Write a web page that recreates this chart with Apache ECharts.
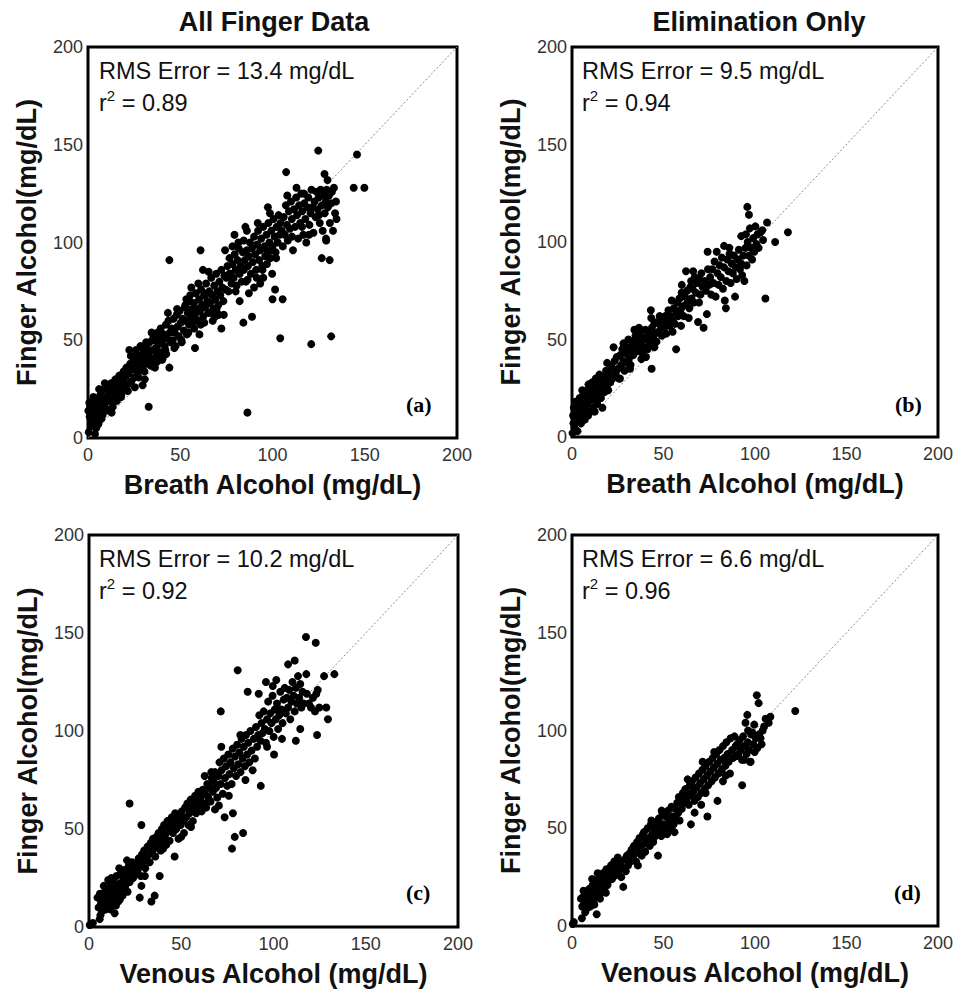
<!DOCTYPE html>
<html>
<head>
<meta charset="utf-8">
<script src="https://cdn.jsdelivr.net/npm/echarts@6/dist/echarts.min.js"></script>
<style>html,body{margin:0;padding:0;background:#fff}#chart{width:956px;height:992px}</style>
</head>
<body>
<div id="chart"></div>
<script>
// ---- Data ----
const axisTicks = [0, 50, 100, 150, 200];
const identityLine = [[0, 0], [200, 200]];

const panelTitles = ['All Finger Data', 'Elimination Only'];
const xNames = ['Breath Alcohol (mg/dL)', 'Breath Alcohol (mg/dL)', 'Venous Alcohol (mg/dL)', 'Venous Alcohol (mg/dL)'];
const yName = 'Finger Alcohol(mg/dL)';
const rmsTexts = ['RMS Error = 13.4 mg/dL', 'RMS Error = 9.5 mg/dL', 'RMS Error = 10.2 mg/dL', 'RMS Error = 6.6 mg/dL'];
const r2Values = ['0.89', '0.94', '0.92', '0.96'];
const panelLetters = ['(a)', '(b)', '(c)', '(d)'];

// (a) All finger data vs breath alcohol
const dataA = [
[0.4,3],[0.9,11],[1.3,16],[1.8,6],[2.2,19],[2.6,13],[3.1,8],[3.5,17],[4.0,14],[4.4,5],[4.9,20],[5.3,11],[5.8,16],[6.2,9],[6.7,22],[7.1,14],[7.6,19],[8.0,12],[8.5,25],[8.9,17],[9.4,21],[9.8,15],[10.3,27],[10.7,19],[11.2,14],[11.6,24],[12.1,19],[12.5,28],[13.0,22],[13.4,16],[13.9,26],[14.3,21],[14.8,30],[15.2,24],[15.7,19],[16.1,27],[16.6,23],[17.0,32],[17.5,26],[17.9,21],[18.4,29],[18.8,25],[19.3,34],[19.7,28],[0.2,14],[0.7,18],[1.6,9],[3.8,2],[5.6,7],[7.3,10],[2.9,21],[6.0,25],[9.1,28],[12.8,13],[4.7,17],[10.9,22],[15.5,28],[18.1,22],[8.3,20],[13.6,24],[2.0,12],[6.5,18],
[20.2,31],[20.8,36],[21.3,27],[21.9,33],[22.4,45],[22.9,38],[23.5,29],[24.0,35],[24.6,41],[25.1,31],[25.7,38],[26.2,43],[26.8,34],[27.3,40],[27.9,36],[28.4,47],[29.0,42],[29.5,37],[30.1,44],[30.6,34],[31.2,40],[31.7,46],[32.3,38],[32.8,43],[33.4,49],[33.9,41],[34.5,54],[35.0,45],[35.6,40],[36.1,50],[36.7,46],[37.2,42],[37.8,54],[38.3,48],[38.9,44],[39.4,56],[40.0,50],[40.5,41],[41.1,53],[41.6,47],[42.2,58],[42.7,51],[43.3,64],[43.6,60],[44.1,36],[44.4,54],[44.9,49],[32.9,16],[25.4,26],[21.6,24],[30.8,30],[36.3,36],[40.2,40],[42.4,43],[27.5,31],[23.2,42],[34.1,37],[39.0,52],[29.6,27],[37.4,39],[26.0,45],[31.5,49],[35.3,51],[41.9,45],[44.1,91],
[45.3,56],[45.9,50],[46.4,61],[47.0,54],[47.5,47],[48.1,63],[48.6,57],[49.2,52],[49.7,65],[50.3,59],[50.8,49],[51.4,61],[51.9,55],[52.5,67],[53.0,60],[53.6,53],[54.1,64],[54.7,58],[55.2,70],[55.8,62],[56.0,77],[56.3,66],[56.9,59],[57.4,69],[58.0,63],[58.0,46],[58.5,74],[59.1,66],[59.6,60],[60.2,71],[60.4,53],[60.7,65],[61.0,96],[61.3,76],[61.8,68],[62.3,86],[62.4,62],[62.9,73],[63.5,67],[64.0,79],[64.6,70],[65.1,64],[65.7,75],[66.2,69],[66.8,82],[67.3,73],[67.6,60],[67.9,66],[68.4,78],[69.0,71],[69.5,84],[70.1,75],[70.6,68],[71.2,80],[71.7,73],[72.3,56],[72.3,86],[72.8,77],[73.4,70],[73.9,83],[74.5,76],[46.8,46],[50.6,50],[54.4,54],[63.0,59],[66.0,64],[69.7,66],[73.6,63],[48.3,66],[52.8,68],[55.4,73],[59.8,79],[64.4,74],[68.8,62],[57.6,56],[61.1,58],[53.3,71],[65.4,85],[70.9,63],
[75.0,82],[75.6,88],[76.1,75],[76.7,92],[77.2,84],[77.8,79],[78.3,98],[78.4,89],[78.9,82],[79.4,104],[79.5,94],[80.0,75],[80.0,86],[80.6,78],[81.1,91],[81.7,97],[82.2,70],[82.2,84],[82.8,88],[83.3,80],[83.9,95],[84.2,59],[84.4,101],[84.5,86],[85.0,91],[85.3,108],[85.6,80],[86.1,106],[86.1,96],[86.4,13],[86.7,88],[87.2,74],[87.2,93],[87.8,100],[88.3,84],[88.9,62],[88.9,97],[89.4,90],[90.0,77],[90.0,103],[90.6,94],[91.1,86],[91.7,99],[92.0,110],[92.2,106],[92.8,91],[93.3,79],[93.3,96],[93.9,102],[94.4,88],[95.0,108],[95.0,82],[95.6,98],[96.1,93],[96.7,104],[97.2,95],[97.5,118],[97.8,110],[98.3,100],[98.6,115],[98.9,92],[99.4,106],[99.8,84],[100.0,98],[100.6,112],[101.1,103],[101.4,76],[101.7,95],[102.2,108],[102.8,100],[103.3,114],[103.9,104],[104.4,110],[100.0,71],[105.5,71],[104.2,51],[74.3,96],[76.6,84],[81.5,100],[86.5,81],[91.4,82],[94.6,86],[97.0,89],[99.0,96],[102.0,92],
[105.0,106],[105.6,98],[106.1,113],[106.7,104],[107.2,119],[107.4,136],[107.8,109],[108.3,101],[108.9,116],[109.4,107],[110.0,121],[110.5,112],[111.1,96],[111.7,117],[112.2,108],[112.8,123],[113.3,114],[113.9,102],[114.4,119],[115.0,110],[115.6,125],[116.1,116],[116.7,104],[117.1,125],[117.2,120],[117.8,112],[118.3,100],[118.9,118],[119.4,123],[120.0,109],[120.6,115],[121.1,127],[121.7,118],[122.2,105],[122.8,121],[123.3,113],[123.9,126],[124.4,117],[125.0,123],[125.6,110],[126.1,127],[126.7,119],[127.2,106],[127.8,124],[128.2,135],[128.3,115],[128.9,121],[129.1,101],[129.4,127],[129.8,132],[130.0,118],[130.6,124],[131.1,110],[131.7,120],[132.2,126],[132.8,106],[133.3,128],[133.9,115],[134.4,121],[134.7,112],[121.0,48],[124.8,147],[126.7,92],[131.0,91],[129.0,102],[131.8,52],[145.8,145],[144.0,128],[149.8,128],[110.6,103],[116.0,108],[119.8,104],[125.2,114],[108.0,124],[113.0,128]
];

// (b) Elimination only vs breath alcohol
const dataB = [
[0.3,2],[0.6,11],[1.0,15],[1.4,5],[1.8,18],[2.2,9],[2.6,13],[3.0,3],[3.4,17],[3.8,11],[4.2,20],[4.6,14],[5.0,7],[5.4,19],[5.8,12],[6.2,22],[6.6,16],[7.0,9],[7.4,20],[7.8,14],[8.2,24],[8.6,17],[9.0,27],[9.4,21],[9.8,13],[10.2,25],[10.6,19],[11.0,28],[11.4,22],[11.8,15],[12.2,26],[12.6,20],[13.0,30],[13.4,24],[13.8,17],[14.2,28],[14.6,22],[15.0,32],[15.4,26],[15.8,20],[16.2,29],[16.6,15],[17.0,25],[17.4,31],[17.8,23],[18.2,28],[18.6,34],[19.0,26],[19.4,31],[19.8,24],[0.8,7],[2.9,15],[5.6,24],[8.8,11],[12.4,13],[4.0,8],
[20.3,33],[20.9,28],[21.5,36],[22.1,30],[22.7,46],[23.3,39],[23.9,33],[24.5,41],[25.1,35],[25.7,30],[26.3,42],[26.9,37],[27.5,45],[28.1,48],[28.1,39],[28.7,34],[29.3,43],[29.9,38],[30.5,46],[31.1,40],[31.7,35],[32.3,44],[32.9,49],[33.5,42],[34.1,55],[34.1,47],[34.7,52],[35.3,44],[35.9,50],[36.5,45],[37.1,53],[37.7,48],[38.3,43],[38.9,51],[39.5,46],[40.1,55],[40.7,50],[41.3,45],[41.9,53],[42.5,48],[43.1,65],[43.3,61],[43.5,35],[43.7,56],[44.3,51],[44.9,58],[45.5,53],[46.1,49],[46.7,59],[47.3,54],[47.9,62],[48.5,57],[49.1,52],[49.7,60],[26.2,30],[32.0,37],[37.9,40],[19.2,38],[30.8,50],[36.6,56],[40.4,41],[45.0,46],
[50.3,56],[50.9,62],[51.5,53],[52.1,59],[52.7,65],[53.3,57],[53.9,62],[54.5,70],[55.1,60],[55.7,66],[56.3,58],[56.9,45],[57.0,64],[57.5,69],[58.1,62],[58.7,71],[59.3,65],[59.9,74],[60.5,67],[61.1,62],[61.7,72],[62.3,85],[62.3,68],[62.9,75],[63.5,70],[64.1,66],[64.7,77],[65.1,80],[65.3,71],[65.9,76],[66.5,69],[67.1,82],[67.7,74],[68.3,79],[68.9,59],[69.5,81],[70.1,73],[70.7,84],[71.3,77],[71.9,56],[72.5,80],[73.1,75],[73.7,63],[74.1,95],[74.3,86],[74.9,78],[55.0,54],[59.6,57],[63.8,61],[60.0,78],[66.2,85],[69.4,69],
[75.5,82],[76.1,73],[76.7,86],[77.3,79],[77.9,90],[78.5,72],[79.1,95],[79.5,84],[80.1,78],[80.7,88],[81.3,82],[81.9,92],[82.5,76],[83.1,98],[83.1,87],[83.5,70],[84.1,66],[84.3,80],[84.9,91],[85.5,85],[86.1,94],[86.7,79],[87.3,89],[87.9,84],[88.5,93],[89.1,72],[89.4,87],[90.0,81],[90.6,91],[91.2,96],[91.8,86],[92.4,89],[93.0,83],[93.6,93],[94.2,80],[94.8,97],[95.1,104],[95.4,88],[95.8,118],[96.0,100],[96.7,114],[96.6,93],[97.2,107],[97.8,97],[98.4,91],[99.0,102],[99.6,95],[100.2,108],[100.8,99],[101.4,104],[102.0,97],[103.1,105],[104.0,106],[104.4,101],[106.6,110],[105.7,71],[111.0,100],[118.0,105],[86.0,97],[92.5,103]
];

// (c) All finger data vs venous alcohol
const dataC = [
[0.4,1],[2.1,2],[5.8,4],[13.9,7],[4.6,15],[5.2,10],[5.9,17],[6.5,12],[7.1,8],[7.7,16],[8.3,13],[8.9,19],[9.5,11],[10.1,17],[10.7,14],[11.3,21],[11.9,12],[12.5,18],[13.1,23],[13.7,15],[14.3,20],[14.9,26],[15.5,17],[16.1,22],[16.7,14],[17.3,27],[17.9,19],[18.5,24],[19.1,29],[19.7,21],[20.3,26],[20.9,18],[21.5,31],[22.1,23],[22.7,28],[23.3,33],[23.9,25],[24.5,30],[6.2,6],[9.2,9],[11.6,9],[14.6,11],[18.2,16],[12.2,25],[16.4,30],[8.0,21],[22.0,63],[28.4,52],[27.5,15],[33.8,13],[35.6,16],[28.4,21],[38.3,26],[20.6,34],[15.8,13],[10.4,24],
[25.1,27],[25.7,32],[26.3,29],[26.9,35],[27.5,31],[28.1,26],[28.7,37],[29.3,33],[29.9,39],[30.5,30],[31.1,35],[31.7,41],[32.3,37],[32.9,33],[33.5,43],[34.1,38],[34.7,45],[35.3,40],[35.9,36],[36.5,46],[37.1,41],[37.7,48],[38.3,43],[38.9,39],[39.5,50],[40.1,45],[40.7,52],[41.3,47],[41.9,42],[42.5,54],[42.8,54],[43.1,49],[43.7,44],[44.3,51],[44.9,56],[45.5,48],[46.1,53],[46.4,36],[46.7,58],[47.3,50],[47.9,55],[48.5,45],[49.1,57],[49.7,52],[50.3,59],[50.9,54],[51.5,48],[52.1,61],[52.7,56],[53.3,63],[53.9,52],[54.5,58],[55.1,65],[55.7,60],[56.3,54],[56.9,62],[57.5,67],[58.1,58],[58.7,64],[59.3,69],[59.9,61],[30.3,26],[35.0,44],[40.2,40],[50.0,46],[55.3,51],
[60.5,66],[61.1,59],[61.7,70],[62.3,63],[62.7,77],[62.9,68],[63.5,61],[64.1,73],[64.7,66],[65.3,71],[65.9,64],[66.3,79],[66.5,76],[67.1,69],[67.7,74],[68.3,60],[68.3,79],[68.9,71],[69.5,66],[70.1,77],[70.7,84],[71.3,73],[71.4,110],[71.7,92],[71.9,80],[72.5,68],[73.1,86],[73.5,56],[73.7,76],[74.3,82],[74.9,72],[75.5,88],[76.1,78],[76.7,84],[77.3,73],[77.5,40],[77.9,91],[78.0,58],[78.5,81],[79.1,87],[79.0,46],[79.7,77],[80.3,93],[80.6,131],[80.9,83],[81.5,89],[82.1,79],[82.7,96],[83.3,86],[83.5,48],[83.9,92],[84.5,82],[85.1,98],[85.7,88],[86.0,120],[86.3,94],[86.9,84],[87.5,100],[88.1,90],[88.7,80],[89.3,96],[89.9,86],[92.0,119],[93.1,72],[82.0,98],[75.8,67],[70.4,62],[84.8,75],
[90.5,102],[91.1,92],[91.7,98],[92.3,108],[92.9,95],[93.5,104],[94.1,99],[94.7,110],[95.3,101],[95.9,125],[95.9,94],[96.5,106],[97.1,115],[97.7,100],[98.3,109],[98.9,104],[99.5,118],[100.1,97],[100.7,111],[101.3,106],[101.5,126],[101.9,114],[102.5,101],[103.1,108],[103.7,120],[104.3,111],[104.9,104],[105.5,116],[106.1,122],[106.7,109],[107.3,117],[107.9,134],[107.9,112],[108.5,121],[109.1,106],[109.7,115],[110.3,125],[110.9,118],[111.5,136],[111.5,110],[112.1,95],[112.1,122],[112.7,114],[113.3,128],[113.9,117],[114.5,101],[114.5,124],[115.1,112],[115.7,120],[116.3,114],[117.6,148],[117.8,129],[118.1,119],[119.2,114],[120.3,112],[121.4,117],[122.5,110],[122.9,145],[123.2,119],[123.6,98],[124.0,121],[124.8,112],[127.4,128],[128.6,112],[129.5,106],[133.0,129],[96.5,92],[100.3,88],[104.6,96],[99.6,123]
];

// (d) Elimination only vs venous alcohol
const dataD = [
[0.4,1],[1.0,2],[5.4,4],[13.5,6],[6.3,18],[4.9,14],[5.6,10],[6.2,15],[6.9,12],[7.5,17],[8.1,9],[8.8,14],[9.4,19],[10.0,12],[10.6,16],[11.3,21],[11.9,14],[12.5,18],[13.1,23],[13.8,16],[14.4,20],[15.0,25],[15.6,17],[16.3,22],[16.9,27],[17.5,19],[18.1,24],[18.8,29],[19.4,21],[19.9,23],[20.6,26],[21.3,31],[21.9,24],[22.5,28],[23.1,33],[23.8,26],[24.4,30],[25.0,35],[25.6,28],[26.3,32],[26.9,25],[27.5,30],[28.0,20],[28.8,34],[29.4,28],[7.2,7],[9.9,10],[12.2,11],[15.3,14],[18.5,17],[11.0,24],[14.0,27],
[30.0,36],[30.6,31],[31.3,37],[31.9,33],[32.5,39],[33.1,35],[33.8,41],[34.4,37],[35.0,33],[35.6,43],[36.3,38],[36.9,45],[37.5,41],[38.1,36],[38.8,47],[39.4,42],[39.3,48],[40.0,38],[40.6,44],[41.3,50],[41.9,45],[42.5,41],[43.1,52],[43.4,54],[43.8,47],[44.4,43],[45.0,50],[45.6,46],[46.3,53],[46.9,48],[47.0,36],[47.5,55],[48.1,50],[48.8,46],[49.4,57],[50.0,52],[50.6,48],[51.3,56],[51.9,51],[52.5,59],[53.1,54],[53.8,50],[54.4,61],[55.0,56],[55.6,52],[56.3,60],[56.9,55],[57.5,63],[58.1,58],[58.8,54],[59.4,64],[60.0,60],[33.0,39],[36.0,31],[44.0,44],[52.0,47],[56.0,48],[49.0,59],[58.4,66],
[60.6,68],[61.3,63],[61.9,70],[62.5,65],[63.2,75],[63.1,68],[63.8,62],[64.4,72],[65.0,52],[65.0,67],[65.6,74],[66.3,69],[66.9,64],[67.5,76],[68.1,71],[68.8,66],[69.4,78],[70.0,73],[70.6,62],[70.6,68],[71.3,80],[71.4,84],[71.9,75],[72.5,70],[73.1,82],[73.8,77],[74.0,56],[74.4,72],[75.0,84],[75.6,79],[76.3,74],[76.9,86],[77.5,81],[77.7,89],[78.1,76],[78.8,88],[79.4,83],[79.5,64],[80.0,78],[80.6,90],[81.3,85],[81.9,80],[82.5,74],[82.5,92],[83.1,86],[83.8,82],[84.4,94],[85.0,88],[85.6,84],[86.3,78],[86.7,96],[87.5,90],[88.1,86],[88.8,97],[89.4,92],[89.9,87],[67.0,58],[73.0,68],[84.0,77],
[90.3,93],[91.0,88],[91.6,95],[92.2,90],[92.9,85],[93.0,72],[93.5,97],[94.0,85],[94.2,92],[94.8,104],[95.4,88],[95.8,108],[96.0,94],[96.7,90],[97.3,84],[97.6,84],[97.9,98],[98.5,99],[99.1,93],[99.8,89],[100.4,96],[101.0,118],[101.3,91],[102.0,114],[102.2,98],[103.0,96],[103.6,93],[104.2,100],[105.0,102],[107.5,104],[108.4,107],[105.8,106],[122.0,110],[99.6,103],[96.2,100]
];

const panelData = [dataA, dataB, dataC, dataD];

// ---- Layout ----
const FONT = '"Liberation Sans", Arial, Helvetica, sans-serif';
const grids = [
  {left: 88, top: 47, width: 369, height: 391},
  {left: 572, top: 47, width: 369, height: 390},
  {left: 89, top: 535, width: 369, height: 392},
  {left: 572, top: 535, width: 369, height: 391}
];

const option = {
  backgroundColor: '#ffffff',
  animation: false,
  grid: grids.map(g => Object.assign({show: true, borderColor: '#000', borderWidth: 3, backgroundColor: 'transparent', containLabel: false}, g)),
  xAxis: grids.map((g, i) => ({
    type: 'value', gridIndex: i, min: axisTicks[0], max: axisTicks[axisTicks.length - 1], interval: 50,
    axisLine: {show: false}, axisTick: {show: false}, splitLine: {show: false},
    axisLabel: {color: '#333', fontSize: 18, fontFamily: FONT, margin: 8},
    name: xNames[i], nameLocation: 'middle', nameGap: 33,
    nameTextStyle: {color: '#111', fontSize: 27, fontWeight: 'bold', fontFamily: FONT}
  })),
  yAxis: grids.map((g, i) => ({
    type: 'value', gridIndex: i, min: axisTicks[0], max: axisTicks[axisTicks.length - 1], interval: 50,
    axisLine: {show: false}, axisTick: {show: false}, splitLine: {show: false},
    axisLabel: {color: '#333', fontSize: 18, fontFamily: FONT, margin: 5},
    name: yName, nameLocation: 'middle', nameGap: 48,
    nameTextStyle: {color: '#111', fontSize: 27, fontWeight: 'bold', fontFamily: FONT}
  })),
  title: [],
  graphic: [],
  series: []
};

panelData.forEach((d, i) => {
  option.series.push({
    type: 'line', xAxisIndex: i, yAxisIndex: i, data: identityLine, symbol: 'none', silent: true,
    lineStyle: {color: '#8a8a8a', width: 1, type: [2, 2]}, z: 1
  });
  option.series.push({
    type: 'scatter', xAxisIndex: i, yAxisIndex: i, data: d, symbol: 'circle', symbolSize: 8,
    itemStyle: {color: '#000', opacity: 1}, z: 2
  });
});

// Column titles
option.title.push({text: panelTitles[0], left: 274, top: 8, textAlign: 'center', padding: 0,
  textStyle: {fontSize: 27, fontWeight: 'bold', color: '#111', fontFamily: FONT}});
option.title.push({text: panelTitles[1], left: 759, top: 8, textAlign: 'center', padding: 0,
  textStyle: {fontSize: 27, fontWeight: 'bold', color: '#111', fontFamily: FONT}});

// Annotations
const annPos = [[99, 58], [582, 58], [99, 546], [582, 546]];
const letterPos = [[421, 405], [910, 405], [421, 893], [909, 893]];
annPos.forEach((p, i) => {
  option.title.push({text: rmsTexts[i], left: p[0], top: p[1], padding: 0,
    textStyle: {fontSize: 23.5, fontWeight: 'normal', color: '#111', fontFamily: FONT, lineHeight: 25}});
  option.title.push({text: '{b|r}{s|2}{b| = ' + r2Values[i] + '}', left: p[0], top: p[1] + 30, padding: 0,
    textStyle: {fontFamily: FONT, fontWeight: 'normal', rich: {
      b: {fontSize: 23.5, fontWeight: 'normal', color: '#111', fontFamily: FONT, lineHeight: 27, verticalAlign: 'bottom'},
      s: {fontSize: 15, fontWeight: 'normal', color: '#111', fontFamily: FONT, lineHeight: 27, verticalAlign: 'top'}
    }}});
  option.graphic.push({type: 'text', left: letterPos[i][0] - 15, top: letterPos[i][1] - 12, z: 10,
    style: {text: panelLetters[i], font: 'bold 22px "Liberation Serif", "Times New Roman", serif', fill: '#000'}});
});

const chart = echarts.init(document.getElementById('chart'), null, {renderer: 'svg'});
chart.setOption(option);
</script>
</body>
</html>
